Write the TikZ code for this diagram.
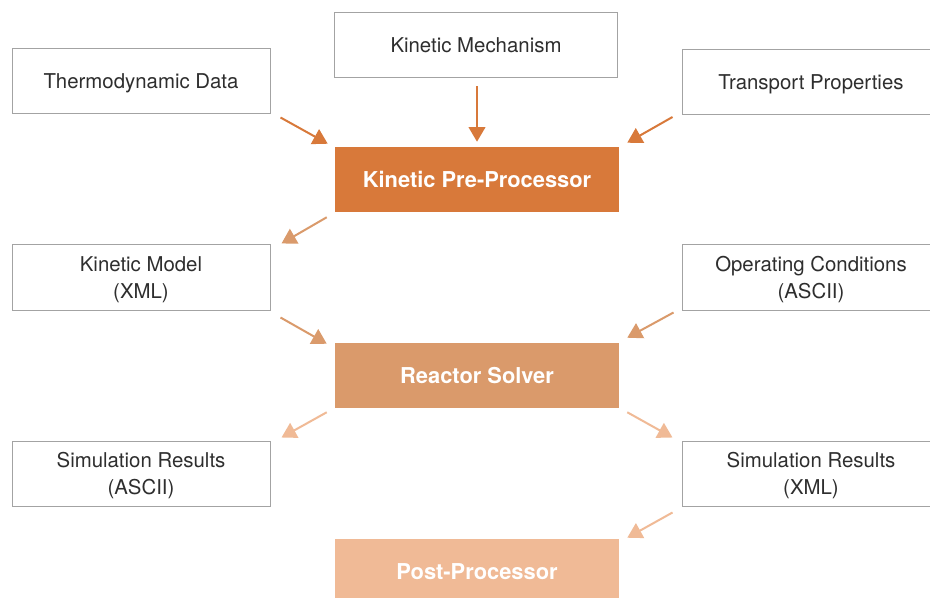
\documentclass[tikz,border=0pt]{standalone}
\usepackage{fontspec}
\setmainfont{TeX Gyre Heros}
\usetikzlibrary{arrows.meta}
\definecolor{txtgrey}{HTML}{2E2E2E}
\definecolor{boxgrey}{HTML}{A3A3A3}
\definecolor{cdark}{HTML}{D8793A}
\definecolor{cmid}{HTML}{DA9A6B}
\definecolor{clight}{HTML}{F0BA96}
\tikzset{
  plainbox/.style={draw=boxgrey, line width=0.75pt, fill=white, inner sep=0pt,
    minimum width=193.5pt, minimum height=48.75pt, align=center, text=txtgrey,
    text depth=0pt, font=\fontsize{15.3}{20}\selectfont},
  procbox/.style={draw=none, inner sep=0pt, minimum width=213pt, minimum height=48.75pt,
    align=center, text=white, text depth=0pt, font=\fontsize{16.4}{20}\selectfont\bfseries},
  conn/.style={line width=1.5pt, -{Triangle[length=11pt,width=12.5pt]}},
}
\begin{document}
\begin{tikzpicture}[x=0.75pt,y=-0.75pt]
\useasboundingbox (0,0) rectangle (930,598);
\clip (0,0) rectangle (930,598);
\fill[white] (0,0) rectangle (930,598);
\node[plainbox] (thermo) at (141,81.5) {Thermodynamic Data};
\node[plainbox, minimum width=212.25pt] (kmech) at (476,45.5) {Kinetic Mechanism};
\node[plainbox] (transp) at (811,82) {Transport Properties};
\node[procbox, fill=cdark] (kpp) at (477,179.5) {Kinetic Pre-Processor};
\node[plainbox] (kmodel) at (141,277.5) {Kinetic Model\\(XML)};
\node[plainbox] (opcond) at (811,277.5) {Operating Conditions\\(ASCII)};
\node[procbox, fill=cmid] (rs) at (477,375.5) {Reactor Solver};
\node[plainbox] (sra) at (141,473.5) {Simulation Results\\(ASCII)};
\node[plainbox] (srx) at (811,473.5) {Simulation Results\\(XML)};
\node[procbox, fill=clight] (pp) at (477,571.5) {Post-Processor};

\draw[conn, cdark] ([shift={(10,3)}]thermo.south east) -- ([shift={(-7,-3)}]kpp.north west);
\draw[conn, cdark] ([shift={(1,8)}]kmech.south) -- ([shift={(0,-5)}]kpp.north);
\draw[conn, cdark] ([shift={(-9,2)}]transp.south west) -- ([shift={(8,-4)}]kpp.north east);
\draw[conn, cmid] ([shift={(-8,5)}]kpp.south west) -- ([shift={(11,-1)}]kmodel.north east);
\draw[conn, cmid] ([shift={(10,7)}]kmodel.south east) -- ([shift={(-8,1)}]rs.north west);
\draw[conn, cmid] ([shift={(-8,2)}]opcond.south west) -- ([shift={(8,-5)}]rs.north east);
\draw[conn, clight] ([shift={(-8,4)}]rs.south west) -- ([shift={(11,-3)}]sra.north east);
\draw[conn, clight] ([shift={(8,4)}]rs.south east) -- ([shift={(-9,-3)}]srx.north west);
\draw[conn, clight] ([shift={(-9,6)}]srx.south west) -- ([shift={(8,-1)}]pp.north east);
\end{tikzpicture}
\end{document}
